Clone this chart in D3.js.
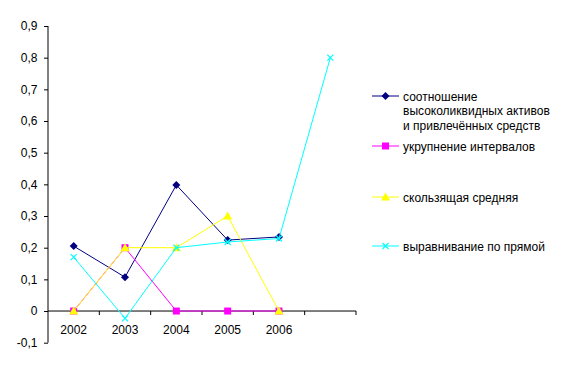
<!DOCTYPE html>
<html><head><meta charset="utf-8">
<script src="https://cdn.jsdelivr.net/npm/d3@7"></script>
<style>body{margin:0;background:#fff}svg{display:block;font-family:Arial,"Liberation Sans",sans-serif}</style>
</head><body>
<svg id="c" width="563" height="369"></svg>
<script>
const categories = ["2002","2003","2004","2005","2006","2007"];
const categoryLabels = ["2002","2003","2004","2005","2006",""];
const ratio = [0.205, 0.107, 0.398, 0.224, 0.234, null];
const enlarge = [0, 0.2, 0, 0, 0, null];
const movingAvg = [0, 0.2, 0.2, 0.3, 0, null];
const linear = [0.17, -0.023, 0.2, 0.218, 0.229, 0.80];
const yTicks = [-0.1,0,0.1,0.2,0.3,0.4,0.5,0.6,0.7,0.8,0.9];
const seriesNames = ["соотношение высоколиквидных активов и привлечённых средств","укрупнение интервалов","скользящая средняя","выравнивание по прямой"];

const series = [
  {name: seriesNames[0], values: ratio, color: "#000080", marker: "diamond"},
  {name: seriesNames[1], values: enlarge, color: "#FF00FF", marker: "square"},
  {name: seriesNames[2], values: movingAvg, color: "#FFFF00", marker: "triangle"},
  {name: seriesNames[3], values: linear, color: "#00FFFF", marker: "x"}
];

const FS = 12;
const svg = d3.select("#c");
const x = d3.scaleBand().domain(categories).range([48, 356]);
const y = d3.scaleLinear().domain([-0.1, 0.9]).range([342.7, 26]);

const fmt = d => d === 0 ? "0" : d3.format(".1f")(d).replace(".", ",").replace("−","-");

// y axis
const yAxis = d3.axisLeft(y).tickValues(yTicks).tickSize(4).tickPadding(6.5).tickFormat(fmt);
const gy = svg.append("g").attr("transform","translate(48,0)").call(yAxis);
gy.attr("font-family", null).attr("font-size", null);
gy.select(".domain").attr("stroke","#000").attr("d","M0,"+y(0.9)+"V"+y(-0.1));
gy.selectAll("text").attr("font-size",FS).attr("fill","#000");
gy.selectAll("line").attr("stroke","#000");

// x axis
const gx = svg.append("g").attr("transform","translate(0,"+y(0)+")");
gx.append("line").attr("x1",48).attr("x2",356).attr("stroke","#000");
const bounds = categories.map(c => x(c) + x.bandwidth());
gx.selectAll("line.t").data(bounds).join("line").attr("class","t")
  .attr("x1",d=>d).attr("x2",d=>d).attr("y1",0).attr("y2",4).attr("stroke","#000");
gx.selectAll("text").data(categories).join("text")
  .attr("x", d => x(d) + x.bandwidth()/2).attr("y", 22.5)
  .attr("text-anchor","middle").attr("font-size",FS).attr("fill","#000")
  .text((d,i) => categoryLabels[i]);

function drawMarker(g, type, cx, cy, color) {
  if (type === "diamond") {
    g.append("path").attr("d",`M${cx},${cy-4}L${cx+4},${cy}L${cx},${cy+4}L${cx-4},${cy}Z`).attr("fill",color);
  } else if (type === "square") {
    g.append("rect").attr("x",cx-3.5).attr("y",cy-3.5).attr("width",7).attr("height",7).attr("fill",color);
  } else if (type === "triangle") {
    g.append("path").attr("d",`M${cx},${cy-4.5}L${cx+4.5},${cy+3.5}L${cx-4.5},${cy+3.5}Z`).attr("fill",color);
  } else {
    g.append("path").attr("d",`M${cx-3},${cy-3}L${cx+3},${cy+3}M${cx+3},${cy-3}L${cx-3},${cy+3}`).attr("stroke",color).attr("stroke-width",1.2);
  }
}

const cx = c => x(c) + x.bandwidth()/2;
series.forEach(s => {
  const g = svg.append("g");
  const pts = categories.map((c,i) => [c, s.values[i]]).filter(p => p[1] !== null);
  g.append("path").datum(pts)
    .attr("d", d3.line().x(p => cx(p[0])).y(p => y(p[1])))
    .attr("fill","none").attr("stroke", s.color).attr("stroke-width",1);
  pts.forEach(p => drawMarker(g, s.marker, cx(p[0]), y(p[1]), s.color));
});

// legend
const legendY = [96, 146, 197, 246];
const legendLines = [["соотношение","высоколиквидных активов","и привлечённых средств"],[seriesNames[1]],[seriesNames[2]],[seriesNames[3]]];
series.forEach((s,i) => {
  const g = svg.append("g");
  g.append("line").attr("x1",372).attr("x2",399).attr("y1",legendY[i]).attr("y2",legendY[i]).attr("stroke",s.color);
  drawMarker(g, s.marker, 385.5, legendY[i], s.color);
  legendLines[i].forEach((t,j) => {
    g.append("text").attr("x",403).attr("y",legendY[i] + 4.5 + j*14.5).attr("font-size",FS).attr("fill","#000").text(t);
  });
});
</script>
</body></html>
